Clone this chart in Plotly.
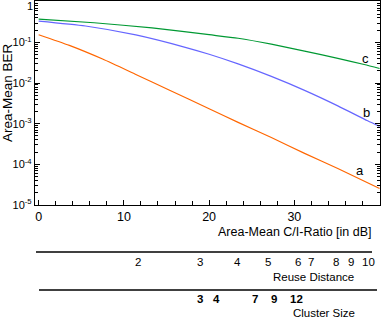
import math
import plotly.graph_objects as go

# --- data ---
ci_a = [0, 3.6, 7.5, 11.4, 15.3, 20, 23.4, 27.3, 31.2, 35.1, 40]
ber_a = [0.155, 0.0845, 0.0390, 0.0163, 0.00678, 0.00234, 0.00108, 4.6e-4, 1.86e-4, 7.9e-5, 2.55e-5]

ci_b = [0, 5.5, 11.4, 17.2, 20, 23.4, 27.3, 31.2, 35.1, 38.6, 40]
ber_b = [0.336, 0.254, 0.153, 0.0759, 0.0511, 0.0296, 0.0146, 0.00662, 0.00275, 0.00118, 8.6e-4]

ci_c = [0, 6.5, 13.3, 20, 23.4, 27.3, 31.2, 35.1, 38.2, 40]
ber_c = [0.377, 0.305, 0.228, 0.155, 0.127, 0.0908, 0.0612, 0.0405, 0.0286, 0.0228]

curve_names = ["a", "b", "c"]
curve_label_ci = [37.7, 38.5, 38.4]
curve_label_ber = [6.9e-5, 0.0019, 0.04]

reuse_labels = ["2", "3", "4", "5", "6", "7", "8", "9", "10"]
reuse_ci = [11.7, 18.9, 23.3, 26.9, 30.4, 32.0, 34.9, 36.6, 38.7]

cluster_labels = ["3", "4", "7", "9", "12"]
cluster_ci = [18.9, 20.9, 25.4, 27.6, 30.3]

y_tickvals = [1e-5, 1e-4, 1e-3, 1e-2, 1e-1]
y_ticktext = ["10<sup>-5</sup>", "10<sup>-4</sup>", "10<sup>-3</sup>", "10<sup>-2</sup>", "10<sup>-1</sup>"]
y_top_label = "1"
x_tickvals = [0, 10, 20, 30, 40]

FONT = "Liberation Sans, Arial, Helvetica, sans-serif"
colors = ["#FF6600", "#6666FF", "#009933"]

fig = go.Figure()
for xs, ys, col in [(ci_a, ber_a, colors[0]), (ci_b, ber_b, colors[1]), (ci_c, ber_c, colors[2])]:
    fig.add_trace(go.Scatter(x=xs, y=ys, mode="lines", line=dict(color=col, width=1.2, shape="spline", smoothing=0.6),
                             showlegend=False, hoverinfo="skip"))

def txt(x, y, text, xref="paper", yref="paper", size=11, xanchor="center", angle=0):
    fig.add_annotation(x=x, y=y, xref=xref, yref=yref, text=text, showarrow=False, xanchor=xanchor,
                       yanchor="middle", textangle=angle, font=dict(family=FONT, size=size, color="black"))

for n, cx, cy in zip(curve_names, curve_label_ci, curve_label_ber):
    txt(cx, math.log10(cy), n, xref="x", yref="y", size=13)

# helper: pixel -> paper
PL, PR, PT, PB = 35, 380, 1, 205
def px_y(py):
    return (PB - py) / (PB - PT)
def px_x(px):
    return (px - PL) / (PR - PL)

# top tick label of the BER axis
txt(px_x(30), px_y(6), y_top_label, size=11)

# reuse distance scale
fig.add_shape(type="line", xref="paper", yref="paper", x0=px_x(36), x1=px_x(372), y0=px_y(252), y1=px_y(252),
              line=dict(color="black", width=1.3))
for lab, cx in zip(reuse_labels, reuse_ci):
    txt(cx, px_y(261.5), lab, xref="x", size=11.5)
txt(px_x(356), px_y(276.5), "Reuse Distance", xanchor="right", size=11.5)

# cluster size scale
fig.add_shape(type="line", xref="paper", yref="paper", x0=px_x(39), x1=px_x(377), y0=px_y(290), y1=px_y(290),
              line=dict(color="black", width=1.3))
for lab, cx in zip(cluster_labels, cluster_ci):
    txt(cx, px_y(298.5), "<b>" + lab + "</b>", xref="x", size=11.5)
txt(px_x(357), px_y(313), "Cluster Size", xanchor="right", size=11.5)

# axis titles
txt(px_x(374), px_y(232), "Area-Mean C/I-Ratio [in dB]", xanchor="right", size=12.5)
txt(px_x(8), px_y(93), "Area-Mean BER", size=13.5, angle=-90)

fig.update_xaxes(range=[-0.43, 40.05], tickvals=x_tickvals, ticks="inside", ticklen=5, tickcolor="black",
                 showline=True, linecolor="black", linewidth=1.3, mirror=True, showgrid=False, zeroline=False,
                 automargin=False, tickfont=dict(family=FONT, size=12.5, color="black"),
                 minor=dict(dtick=2, ticks="inside", ticklen=4, tickcolor="black", showgrid=False))
fig.update_yaxes(type="log", range=[-5, 0.02], tickvals=y_tickvals, ticktext=y_ticktext, ticks="inside", ticklen=5,
                 tickcolor="black", showline=True, linecolor="black", linewidth=1.3, mirror="allticks",
                 showgrid=False, zeroline=False, automargin=False, tickfont=dict(family=FONT, size=11, color="black"),
                 minor=dict(dtick="D1", ticks="inside", ticklen=3, tickcolor="black", showgrid=False))

fig.update_layout(width=384, height=320, margin=dict(l=PL, r=384 - PR, t=PT, b=320 - PB, autoexpand=False),
                  paper_bgcolor="white", plot_bgcolor="white", showlegend=False)

fig.write_html("out.html", config={"displayModeBar": False},
               post_script="document.body.style.margin='0';document.body.style.padding='0';")
